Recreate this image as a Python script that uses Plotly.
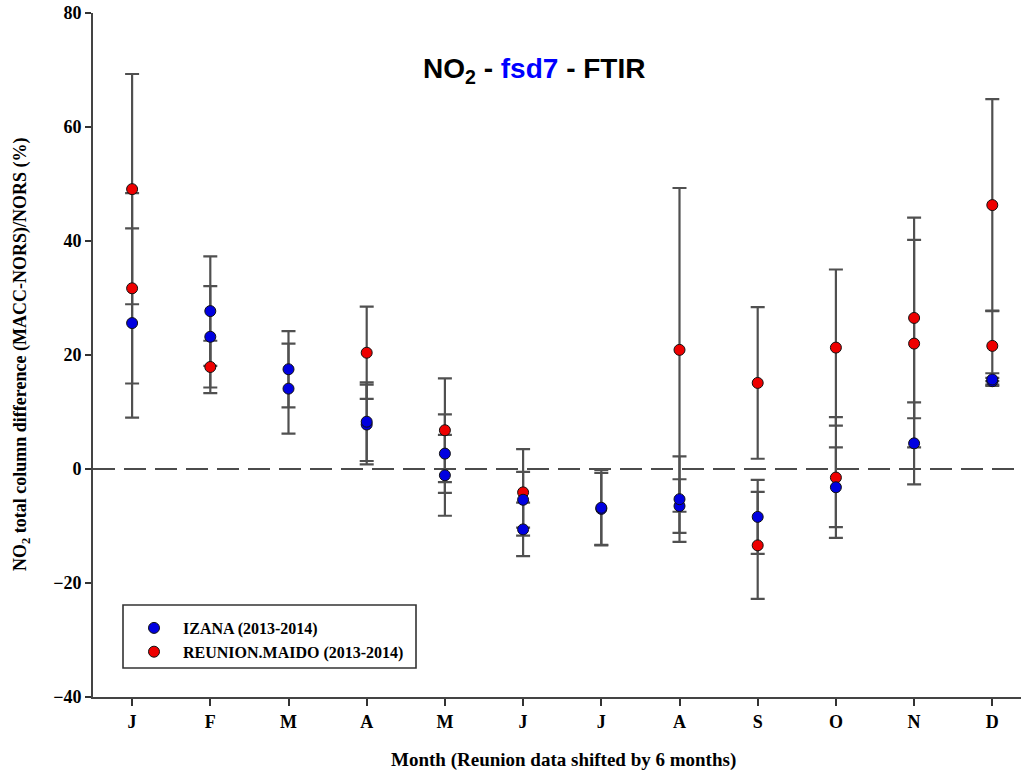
import plotly.graph_objects as go

months = ["J", "F", "M", "A", "M", "J", "J", "A", "S", "O", "N", "D"]
month_pos = list(range(1, 13))

# IZANA (2013-2014) - two values per month where available
izana_a = [25.6, 27.7, 17.5, 8.3, 2.7, -5.4, -6.8, -5.3, -8.4, -3.2, 4.5, 15.7]
izana_a_err = [16.6, 9.6, 6.7, 6.9, 6.9, 4.9, 6.6, 7.5, 6.5, 7.0, 7.2, 1.1]
izana_b = [None, 23.2, 14.1, 7.8, -1.1, -10.6, -7.0, -6.5, None, None, None, 15.4]
izana_b_err = [None, 8.9, 7.9, 7.0, 7.1, 4.7, 6.3, 4.7, None, None, None, 0.6]

# REUNION.MAIDO (2013-2014)
maido_a = [49.1, 17.9, None, 20.4, 6.8, -4.1, None, 20.9, 15.1, 21.3, 26.5, 46.3]
maido_a_err = [20.2, 4.6, None, 8.1, 9.1, 7.6, None, 28.4, 13.3, 13.7, 17.6, 18.6]
maido_b = [31.7, None, None, None, None, None, None, None, -13.4, -1.5, 22.0, 21.6]
maido_b_err = [16.7, None, None, None, None, None, None, None, 9.4, 10.6, 18.2, 6.2]

y_ticks = [-40, -20, 0, 20, 40, 60, 80]

BLUE = "#0000e0"
RED = "#ee0000"
ERR = "#505050"

fig = go.Figure()

def err_trace(y, e):
    return go.Scatter(
        x=month_pos, y=y, mode="markers",
        marker=dict(size=1, color="rgba(0,0,0,0)"),
        error_y=dict(type="data", array=e, visible=True, color=ERR, thickness=2.2, width=7),
        showlegend=False, hoverinfo="skip",
    )

for y, e in [(izana_a, izana_a_err), (izana_b, izana_b_err), (maido_a, maido_a_err), (maido_b, maido_b_err)]:
    fig.add_trace(err_trace(y, e))

def pt_trace(y, color, name, show):
    return go.Scatter(
        x=month_pos, y=y, mode="markers", name=name,
        marker=dict(size=11, color=color, line=dict(color="#111111", width=1)),
        showlegend=show,
    )

fig.add_trace(pt_trace(maido_b, RED, "REUNION.MAIDO (2013-2014)", False))
fig.add_trace(pt_trace(maido_a, RED, "REUNION.MAIDO (2013-2014)", False))
fig.add_trace(pt_trace(izana_b, BLUE, "IZANA (2013-2014)", False))
fig.add_trace(pt_trace(izana_a, BLUE, "IZANA (2013-2014)", False))

# legend-only traces (order: IZANA first, then MAIDO)
fig.add_trace(go.Scatter(x=[None], y=[None], mode="markers", name="IZANA (2013-2014)",
                         marker=dict(size=11, color=BLUE, line=dict(color="#111111", width=1))))
fig.add_trace(go.Scatter(x=[None], y=[None], mode="markers", name="REUNION.MAIDO (2013-2014)",
                         marker=dict(size=11, color=RED, line=dict(color="#111111", width=1))))

W, H = 1021, 771
ml, mt, mb, mr = 93, 13, 74, 0
pw, ph = W - ml - mr, H - mt - mb

def px_to_paper_x(px):
    return (px - ml) / pw

def px_to_paper_y(py):
    return (H - mb - py) / ph

fig.add_shape(type="line", xref="paper", yref="y", x0=0, x1=1, y0=0, y1=0,
              line=dict(color="#111111", width=1.6, dash="22px,9px"), layer="below")

# legend box
fig.add_shape(type="rect", xref="paper", yref="paper",
              x0=px_to_paper_x(123), x1=px_to_paper_x(416),
              y0=px_to_paper_y(668), y1=px_to_paper_y(605),
              line=dict(color="#333333", width=1.6), fillcolor="white", layer="above")

fig.add_annotation(
    text="<b>NO<sub>2</sub> - <span style='color:#0000ff'>fsd7</span> - FTIR</b>",
    xref="paper", yref="paper", x=px_to_paper_x(534), y=px_to_paper_y(70),
    showarrow=False, font=dict(family="Liberation Sans", size=28, color="black"),
    xanchor="center", yanchor="middle",
)

fig.add_annotation(
    text="<b>NO<sub>2</sub> total column difference (MACC-NORS)/NORS (%)</b>",
    xref="paper", yref="paper", x=px_to_paper_x(21), y=px_to_paper_y(355),
    showarrow=False, textangle=-90,
    font=dict(family="Liberation Serif", size=18, color="black"),
    xanchor="center", yanchor="middle",
)

fig.add_annotation(
    text="<b>Month (Reunion data shifted by 6 months)</b>",
    xref="paper", yref="paper", x=px_to_paper_x(563), y=px_to_paper_y(760),
    showarrow=False,
    font=dict(family="Liberation Serif", size=19, color="black"),
    xanchor="center", yanchor="middle",
)

fig.update_layout(
    width=W, height=H,
    margin=dict(l=ml, r=mr, t=mt, b=mb),
    plot_bgcolor="white", paper_bgcolor="white",
    font=dict(family="Liberation Serif", color="black"),
    legend=dict(
        x=px_to_paper_x(125), y=px_to_paper_y(611), xanchor="left", yanchor="top",
        bgcolor="rgba(0,0,0,0)", borderwidth=0,
        font=dict(family="Liberation Serif", size=16, color="black", weight="bold"),
        tracegroupgap=0, itemwidth=48,
    ),
    xaxis=dict(
        range=[0.5, 0.5 + pw / 78.2],
        tickmode="array", tickvals=month_pos, ticktext=months,
        ticks="outside", ticklen=7, tickwidth=1.5, tickcolor="#333333",
        showline=True, linecolor="#444444", linewidth=2,
        showgrid=False, zeroline=False,
        tickfont=dict(size=18, weight="bold"),
    ),
    yaxis=dict(
        range=[-40, 80],
        tickmode="array", tickvals=y_ticks,
        ticks="outside", ticklen=6, tickwidth=1.5, tickcolor="#333333",
        showline=True, linecolor="#444444", linewidth=2,
        showgrid=False, zeroline=False,
        tickfont=dict(size=18, weight="bold"),
    ),
)

fig.write_html("out.html")
